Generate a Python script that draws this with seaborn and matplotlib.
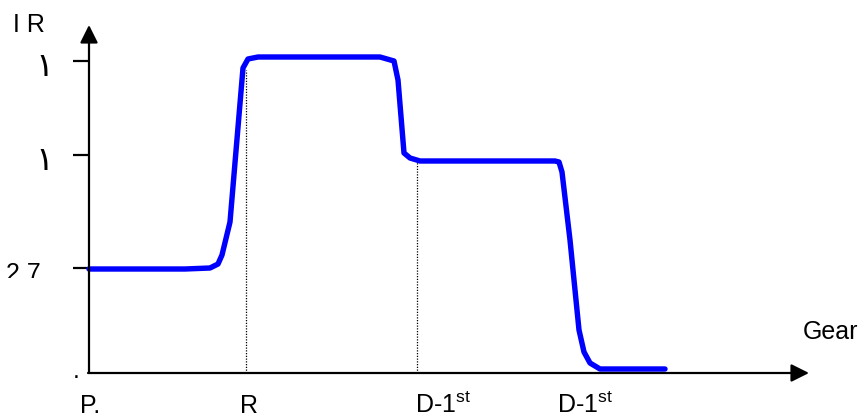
import matplotlib
matplotlib.use("Agg")
import matplotlib.pyplot as plt
import seaborn as sns
import pandas as pd
from matplotlib.patches import Rectangle

sns.set_style("white")
plt.rcParams['font.family'] = ['Liberation Sans', 'DejaVu Sans']
plt.rcParams['mathtext.fontset'] = 'custom'
plt.rcParams['mathtext.rm'] = 'Liberation Sans'
plt.rcParams['text.color'] = 'black'

# Curve (x: along gear axis, y: IR)
curve_x = [0, 96, 121, 129, 133, 141, 154, 159, 169, 291, 305, 309, 315, 321, 331, 466, 470, 473, 481, 490, 495, 501, 511, 576]
curve_y = [104, 104, 105, 109, 118, 151, 305, 314, 316, 316, 312, 293, 220, 215, 212, 212, 211, 201, 133, 43, 21, 10, 4, 4]

# Y ticks
ytick_pos = [312, 218, 105]
ytick_labels = ["\u0661", "\u0661", "2 7"]

# X category labels
xlabel_pos = [-9, 151, 326, 468]
xlabel_text = ["P.", "R", "D-1$^{\\mathrm{st}}$", "D-1$^{\\mathrm{st}}$"]

# Dotted guide lines (x, top y)
guide_x = [157, 328]
guide_top = [303, 212]

df = pd.DataFrame({"gear": curve_x, "ir": curve_y})

fig = plt.figure(figsize=(8.68, 4.15), dpi=100)
ax = fig.add_axes([0, 0, 1, 1])
ax.set_xlim(-89, 779)
ax.set_ylim(-42, 373)
ax.axis("off")

# guides
ax.vlines(guide_x, 0, guide_top, colors="black", linestyles=(0, (1, 1.2)), linewidth=0.9)

# axes with arrows
arrow = dict(arrowstyle="-|>,head_length=0.6,head_width=0.3", lw=1.6, color="black",
             mutation_scale=18, shrinkA=0, shrinkB=0)
ax.annotate("", xy=(0, 348), xytext=(0, 0), arrowprops=arrow)
ax.annotate("", xy=(720, 0), xytext=(-1, 0), arrowprops=arrow)

# tick marks
for yp in ytick_pos:
    ax.plot([-16, 0], [yp, yp], color="black", lw=1.6, solid_capstyle="butt")

# the curve
sns.lineplot(data=df, x="gear", y="ir", sort=False, estimator=None, color="#0000ff",
             linewidth=3.9, ax=ax)
ax.set_xlabel("")
ax.set_ylabel("")
ax.axis("off")

fs = 18
# y tick labels
ax.text(-36, ytick_pos[0] - 5, ytick_labels[0], fontsize=24, ha="right", va="center",
        color="black", family=["DejaVu Sans"])
ax.text(-36, ytick_pos[1] - 5, ytick_labels[1], fontsize=24, ha="right", va="center",
        color="black", family=["DejaVu Sans"])
t27 = ax.text(-83, 92, ytick_labels[2], fontsize=fs, ha="left", va="baseline", color="black")
clip = Rectangle((-89, 95), 200, 200, transform=ax.transData, visible=False)
ax.add_patch(clip)
t27.set_clip_path(clip)
t27.set_clip_on(True)

ax.text(-16, -5, ".", fontsize=fs, ha="left", va="baseline", color="black")
ax.text(-76, 341, "I R", fontsize=fs, ha="left", va="baseline", color="black")
ax.text(714, 34, "Gear", fontsize=fs, ha="left", va="baseline", color="black")

for xp, lab in zip(xlabel_pos, xlabel_text):
    ax.text(xp, -40, lab, fontsize=fs, ha="left", va="baseline", color="black")

fig.savefig("out.png", dpi=100)
